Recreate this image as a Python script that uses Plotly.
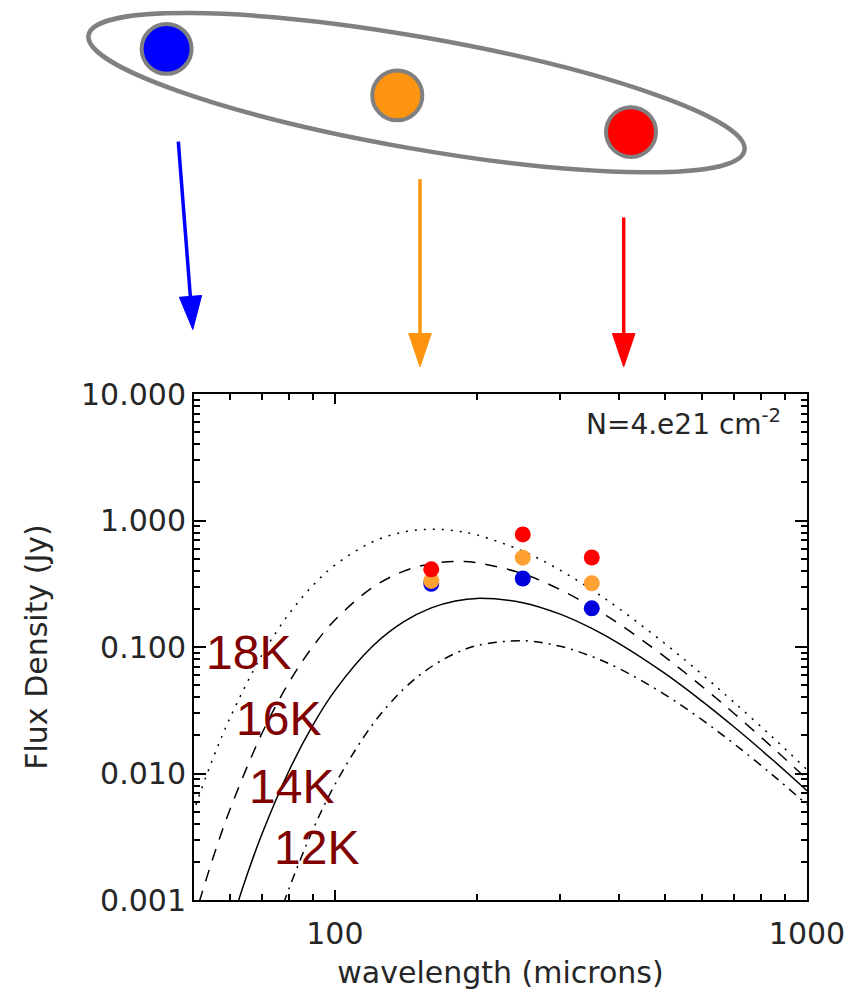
import math
import plotly.graph_objects as go

# ---------------- data ----------------
wl18 = [45, 50, 55, 60, 70, 80, 90, 100, 120, 140, 160, 180, 200, 250, 300, 350, 400, 500, 600, 700, 850, 1000]
f18 = [0.00138, 0.00478, 0.01276, 0.02769, 0.0858, 0.1835, 0.309, 0.444, 0.676, 0.812, 0.853, 0.829, 0.768,
       0.573, 0.4045, 0.284, 0.201, 0.1065, 0.0605, 0.0366, 0.0190, 0.01073]

wl16 = [50, 55, 60, 70, 80, 90, 100, 120, 140, 160, 180, 200, 250, 300, 350, 400, 500, 600, 700, 850, 1000]
f16 = [0.000651, 0.00207, 0.00523, 0.0206, 0.0527, 0.1019, 0.1635, 0.2943, 0.3978, 0.4559, 0.474, 0.4633,
       0.3795, 0.2843, 0.2076, 0.1521, 0.0835, 0.04865, 0.02993, 0.01576, 0.00902]

wl14 = [60, 65, 70, 80, 90, 100, 120, 140, 160, 180, 200, 250, 300, 350, 400, 500, 600, 700, 850, 1000]
f14 = [0.000614, 0.00154, 0.00329, 0.01057, 0.02445, 0.0452, 0.1008, 0.1585, 0.2039, 0.2313, 0.2423,
       0.2242, 0.1818, 0.1402, 0.1064, 0.0618, 0.0372, 0.0234, 0.0126, 0.00732]

wl12 = [75, 80, 90, 100, 120, 140, 160, 180, 200, 250, 300, 350, 400, 500, 600, 700, 850, 1000]
f12 = [0.000633, 0.00124, 0.00365, 0.00816, 0.0242, 0.0467, 0.0698, 0.0892, 0.1026, 0.1122, 0.1013,
       0.0842, 0.0675, 0.0421, 0.0265, 0.0172, 0.00957, 0.00568]

bands = [160, 250, 350]
flux_blue = [0.316, 0.348, 0.202]
flux_orange = [0.333, 0.508, 0.319]
flux_red = [0.411, 0.776, 0.51]

curve_labels = ["18K", "16K", "14K", "12K"]
ytick_vals = [0.001, 0.01, 0.1, 1, 10]
ytick_text = ["0.001", "0.010", "0.100", "1.000", "10.000"]
xtick_vals = [100, 1000]
xtick_text = ["100", "1000"]
x_minor = [60, 70, 80, 90, 200, 300, 400, 500, 600, 700, 800, 900]
y_minor = [m * 10 ** e for e in range(-3, 1) for m in range(2, 10)]

# ---------------- layout geometry (pixels) ----------------
W, H = 863, 996
PL, PR, PT, PB = 194, 807, 394, 902


def px(x):
    return (x - PL) / (PR - PL)


def py(y):
    return (PB - y) / (PB - PT)


FONT = "DejaVu Sans"
TXT = "#262626"

fig = go.Figure()

curve_styles = [
    (wl18, f18, "2px,7px"),
    (wl16, f16, "12px,10px"),
    (wl14, f14, "solid"),
    (wl12, f12, "9px,6px,2px,6px"),
]
for wl, fl, dash in curve_styles:
    fig.add_trace(go.Scatter(x=wl, y=fl, mode="lines",
                             line=dict(color="black", width=1.5, dash=dash, shape="spline", smoothing=1.0),
                             hoverinfo="skip"))

for vals, col in [(flux_blue, "#0000dd"), (flux_orange, "#ffa033"), (flux_red, "#ff0000")]:
    fig.add_trace(go.Scatter(x=bands, y=vals, mode="markers",
                             marker=dict(color=col, size=16, line=dict(width=0))))

axis_common = dict(showline=True, linecolor="black", linewidth=2, mirror="ticks",
                   ticks="inside", tickcolor="black", tickwidth=1.5, showgrid=False, zeroline=False,
                   tickfont=dict(family=FONT, size=30, color=TXT))

fig.update_xaxes(type="log", range=[math.log10(50.3), 3], tickmode="array", tickvals=xtick_vals,
                 ticktext=xtick_text, ticklen=10, ticklabelstandoff=6,
                 minor=dict(tickmode="array", tickvals=x_minor, ticks="inside", ticklen=6,
                            tickcolor="black", tickwidth=1.5, showgrid=False),
                 title=dict(text="wavelength (microns)", font=dict(family=FONT, size=30, color=TXT), standoff=12),
                 **axis_common)
fig.update_yaxes(type="log", range=[-3, 1], tickmode="array", tickvals=ytick_vals,
                 ticktext=ytick_text, ticklen=12,
                 minor=dict(tickmode="array", tickvals=y_minor, ticks="inside", ticklen=6,
                            tickcolor="black", tickwidth=1.5, showgrid=False),
                 title=dict(text="Flux Density (Jy)", font=dict(family=FONT, size=30, color=TXT), standoff=25),
                 **axis_common)

annotations = [
    dict(text="N=4.e21 cm<sup>-2</sup>", xref="paper", yref="paper", x=px(783), y=py(423),
         xanchor="right", yanchor="middle", showarrow=False, font=dict(family=FONT, size=28, color=TXT)),
]
label_pos = [(248, 654), (278, 720), (291, 788), (316, 849)]
for lab, (lx, ly) in zip(curve_labels, label_pos):
    annotations.append(dict(text=lab, xref="paper", yref="paper", x=px(lx), y=py(ly),
                            xanchor="center", yanchor="middle", showarrow=False,
                            font=dict(family="Liberation Sans", size=48, color="#800000")))

# ---------------- illustration (shapes) ----------------
shapes = []
cx, cy, a, b, th = 416.5, 91.5, 333.0, 56.0, math.radians(10.0)
k = 0.5523
loc = [(a, 0),
       (a, k * b), (k * a, b), (0, b),
       (-k * a, b), (-a, k * b), (-a, 0),
       (-a, -k * b), (-k * a, -b), (0, -b),
       (k * a, -b), (a, -k * b), (a, 0)]


def tr(u, v):
    X = cx + u * math.cos(th) - v * math.sin(th)
    Y = cy + u * math.sin(th) + v * math.cos(th)
    return f"{px(X):.5f},{py(Y):.5f}"


path = "M " + tr(*loc[0])
for i in range(1, 13, 3):
    path += " C " + tr(*loc[i]) + " " + tr(*loc[i + 1]) + " " + tr(*loc[i + 2])
path += " Z"
shapes.append(dict(type="path", path=path, xref="paper", yref="paper",
                   line=dict(color="#808080", width=4.5), fillcolor="rgba(0,0,0,0)"))

for (ccx, ccy, col) in [(166.6, 47.5, "#0000ff"), (397.3, 94.2, "#ff9410"), (631.0, 131.0, "#ff0000")]:
    r = 25
    shapes.append(dict(type="circle", xref="paper", yref="paper",
                       x0=px(ccx - r), x1=px(ccx + r), y0=py(ccy + r), y1=py(ccy - r),
                       fillcolor=col, line=dict(color="#808080", width=4)))

arrows = [
    ((178.3, 140.7), (190.5, 298.0), [(179.4, 296.9), (201.6, 295.1), (192.8, 329.3)], "#0000ff"),
    ((420.0, 178.3), (420.0, 336.0), [(408.7, 333.3), (431.3, 333.3), (420.0, 366.7)], "#ff9410"),
    ((623.7, 216.7), (623.7, 336.0), [(612.4, 333.3), (635.0, 333.3), (623.7, 366.7)], "#ff0000"),
]
for (x0, y0), (x1, y1), tri, col in arrows:
    shapes.append(dict(type="line", xref="paper", yref="paper", x0=px(x0), y0=py(y0), x1=px(x1), y1=py(y1),
                       line=dict(color=col, width=3.5)))
    p = "M " + " L ".join(f"{px(x):.5f},{py(y):.5f}" for x, y in tri) + " Z"
    shapes.append(dict(type="path", path=p, xref="paper", yref="paper",
                       fillcolor=col, line=dict(color=col, width=1)))

fig.update_layout(width=W, height=H, margin=dict(l=PL, r=W - PR, t=PT, b=H - PB),
                  plot_bgcolor="white", paper_bgcolor="white", showlegend=False,
                  annotations=annotations, shapes=shapes,
                  font=dict(family=FONT, color=TXT))

fig.write_html("out.html")
